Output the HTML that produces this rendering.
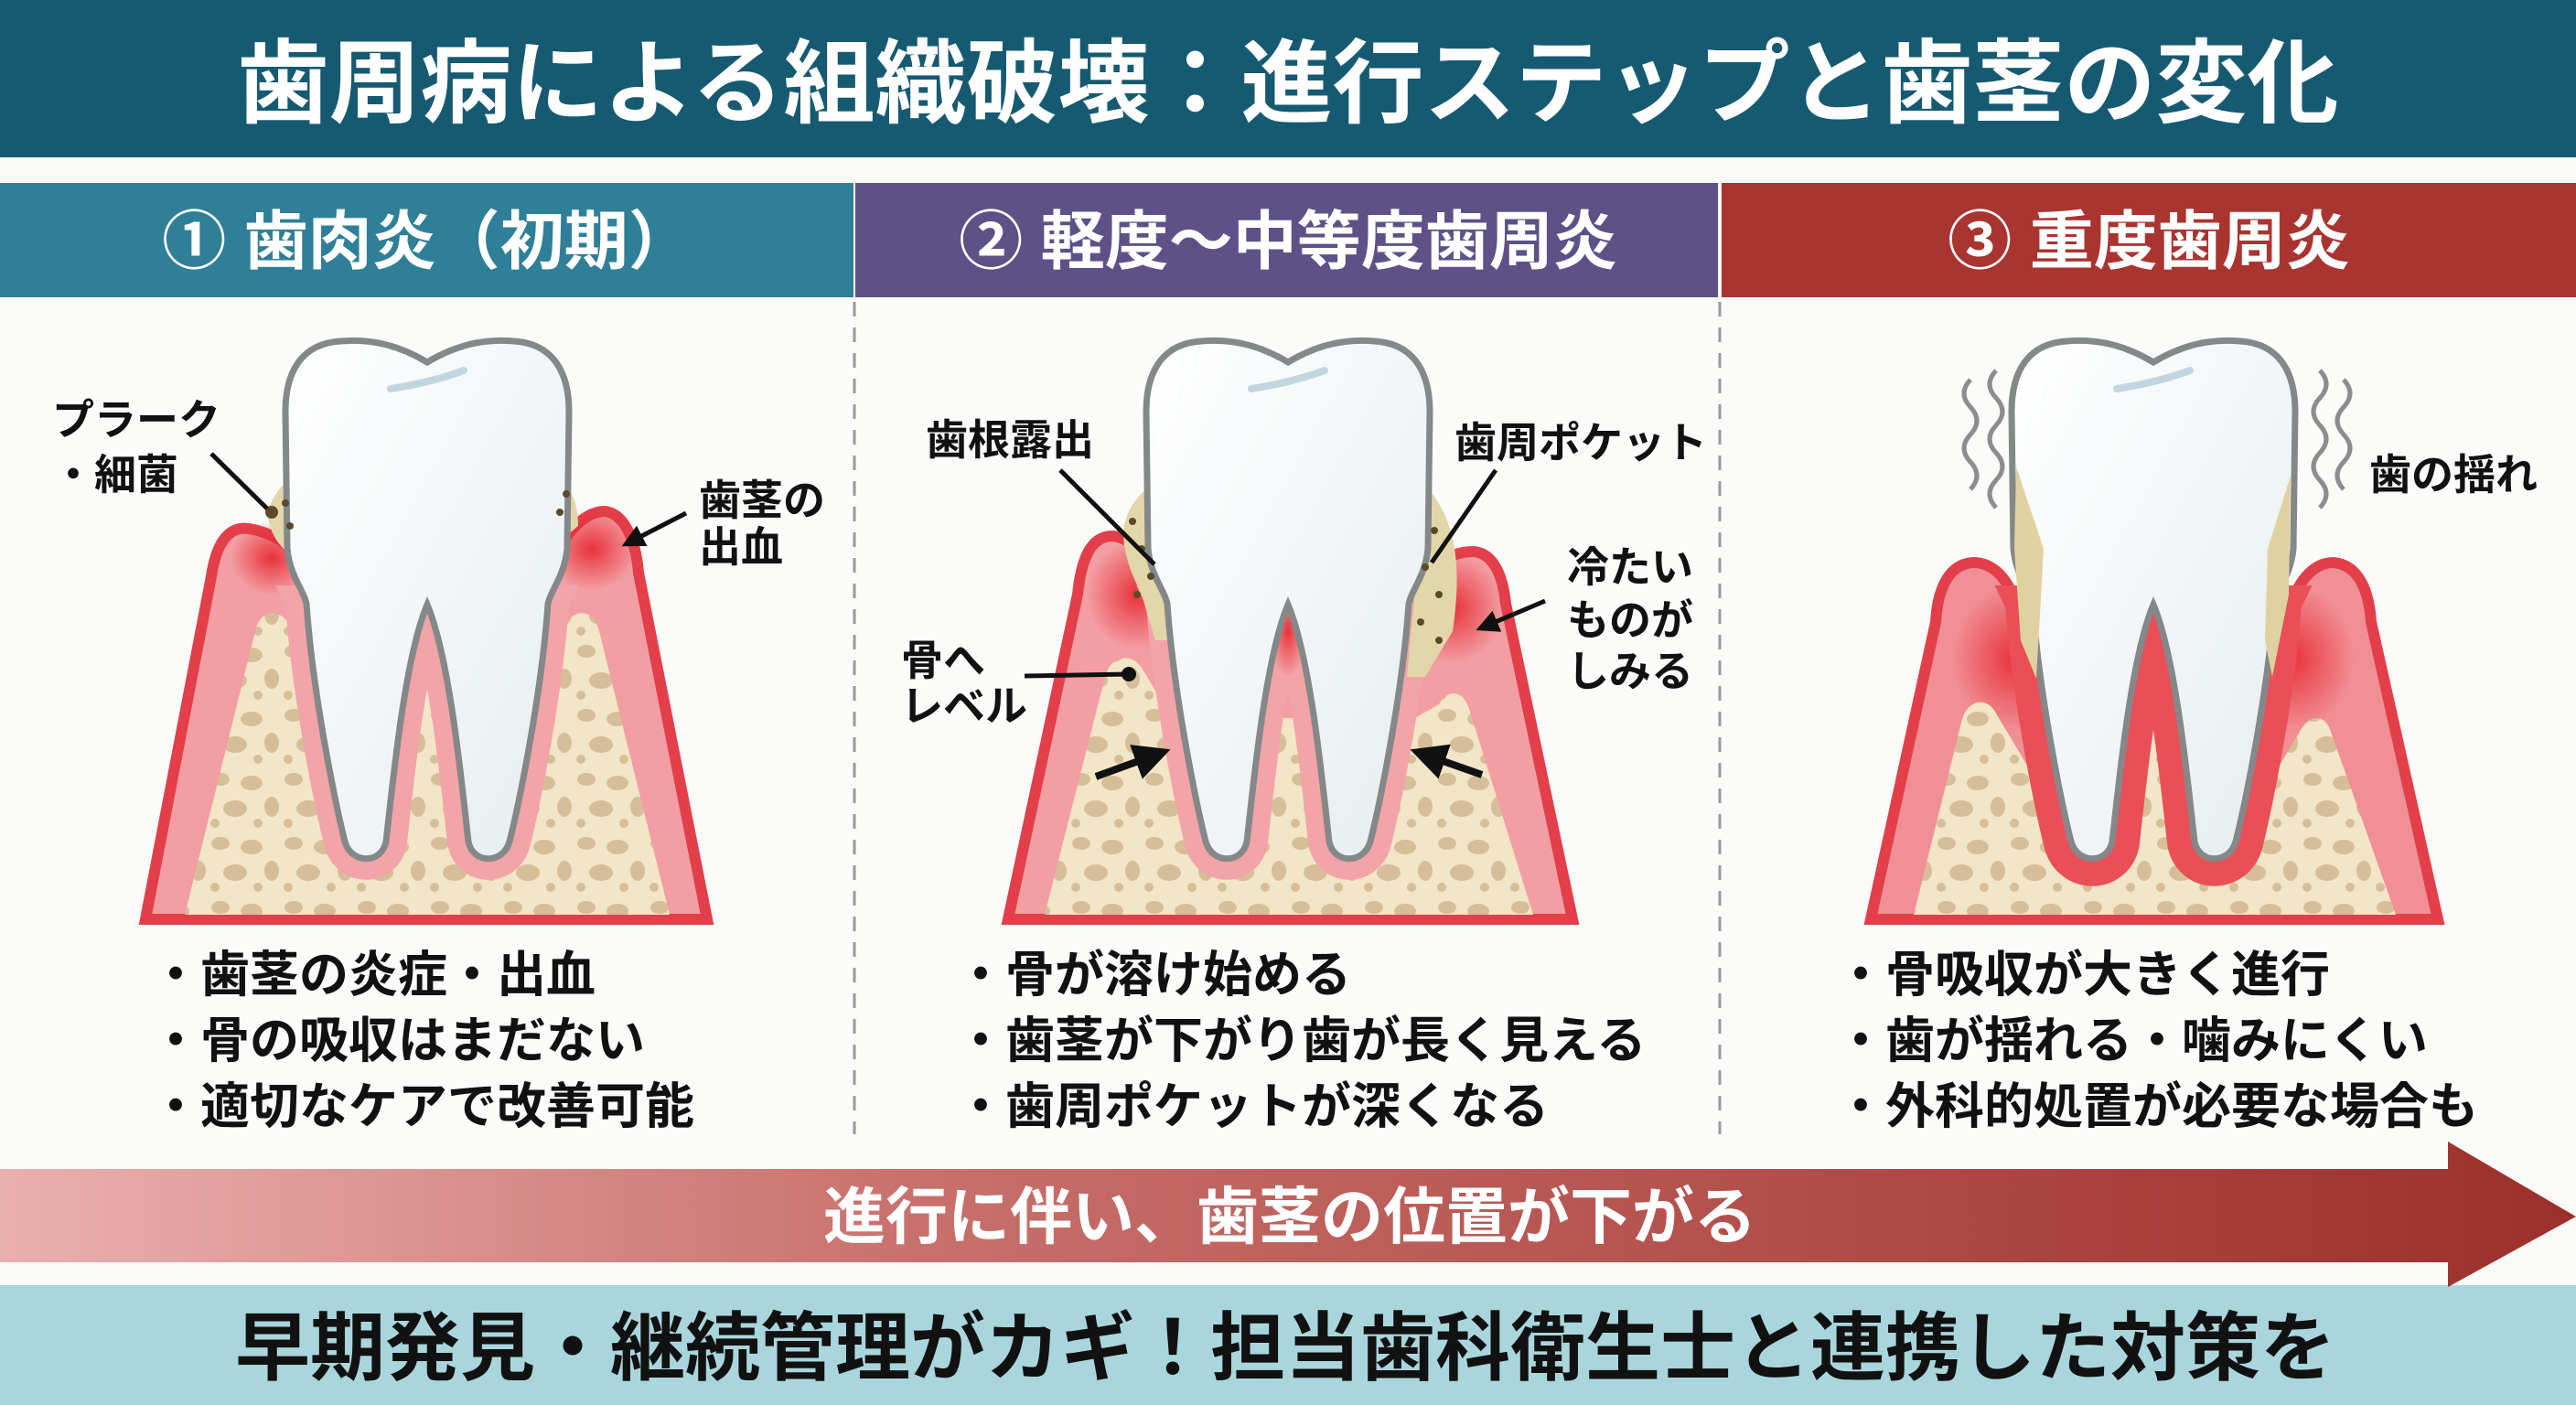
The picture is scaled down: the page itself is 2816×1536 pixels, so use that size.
<!DOCTYPE html>
<html><head><meta charset="utf-8"><style>
html,body{margin:0;padding:0;background:#fbfbfa;}
svg{display:block;}
text{font-family:"Liberation Sans","Noto Sans CJK JP",sans-serif;font-weight:bold;}
</style></head><body>
<svg width="2816" height="1536" viewBox="0 0 2816 1536" xmlns="http://www.w3.org/2000/svg">
<defs>
  <linearGradient id="arr" x1="0" x2="1" y1="0" y2="0">
    <stop offset="0" stop-color="#eab0ae"/><stop offset="0.35" stop-color="#c9716d"/><stop offset="1" stop-color="#9c2f2b"/>
  </linearGradient>
  <linearGradient id="toothg" x1="0" x2="1" y1="0" y2="1">
    <stop offset="0" stop-color="#ffffff"/><stop offset="1" stop-color="#e6edf0"/>
  </linearGradient>
  <pattern id="bone" width="80" height="70" patternUnits="userSpaceOnUse">
    <rect width="80" height="70" fill="#f3e5c8"/>
    <ellipse cx="14" cy="12" rx="10" ry="7" fill="#d6bf98"/>
    <ellipse cx="48" cy="16" rx="12" ry="8" fill="#d6bf98"/>
    <ellipse cx="70" cy="42" rx="8" ry="11" fill="#d6bf98"/>
    <ellipse cx="30" cy="44" rx="13" ry="9" fill="#d6bf98"/>
    <circle cx="55" cy="60" r="5" fill="#d6bf98"/>
    <circle cx="8" cy="60" r="5" fill="#d6bf98"/>
  </pattern>
  <radialGradient id="glow"><stop offset="0" stop-color="#e8262f" stop-opacity="0.9"/><stop offset="1" stop-color="#e8262f" stop-opacity="0"/></radialGradient>
  <clipPath id="lower"><rect x="-400" y="640" width="800" height="400"/></clipPath>
  <path id="tooth" d="M 0 396 C 30 378, 60 370, 95 373 C 140 376, 155 410, 155 450 L 153 600 C 150 630, 135 645, 132 660 C 125 760, 100 880, 90 920 C 83 945, 50 945, 45 920 C 38 860, 25 720, 0 661 C -25 720, -38 860, -45 920 C -50 945, -83 945, -90 920 C -100 880, -125 760, -132 660 C -135 645, -150 630, -153 600 L -155 450 C -155 410, -140 376, -95 373 C -60 370, -30 378, 0 396 Z"/>
  <marker id="ah" viewBox="0 0 10 10" refX="8" refY="5" markerWidth="5" markerHeight="5" orient="auto"><path d="M0 0 L10 5 L0 10 Z" fill="#111"/></marker>
</defs>

<!-- Title -->
<rect x="0" y="0" width="2816" height="172" fill="#165a72"/>
<text x="1408" y="126" font-size="100" fill="#fff" text-anchor="middle">歯周病による組織破壊：進行ステップと歯茎の変化</text>

<!-- Headers -->
<rect x="0" y="200" width="933" height="125" fill="#2f7f98"/>
<rect x="935" y="200" width="943" height="125" fill="#5d5188"/>
<rect x="1882" y="200" width="934" height="125" fill="#a93430"/>
<text x="467" y="288" font-size="70" fill="#fff" text-anchor="middle">① 歯肉炎（初期）</text>
<text x="1408" y="288" font-size="70" fill="#fff" text-anchor="middle">② 軽度〜中等度歯周炎</text>
<text x="2349" y="288" font-size="70" fill="#fff" text-anchor="middle">③ 重度歯周炎</text>

<!-- dividers -->
<line x1="934" y1="330" x2="934" y2="1240" stroke="#9a9a9a" stroke-width="3" stroke-dasharray="16 12"/>
<line x1="1880" y1="330" x2="1880" y2="1240" stroke="#9a9a9a" stroke-width="3" stroke-dasharray="16 12"/>

<!-- Column 1 -->
<g transform="translate(467,0)">
  <path d="M -308 1005 L -236 630 C -230 590, -215 575, -195 578 C -170 582, -150 595, -135 615 L 135 615 C 150 585, 170 560, 193 559 C 215 560, 228 590, 231 626 L 306 1005 Z" fill="#f29ea3" stroke="#e23f4a" stroke-width="12"/>
  <ellipse cx="-170" cy="610" rx="45" ry="40" fill="url(#glow)"/>
  <ellipse cx="180" cy="600" rx="50" ry="45" fill="url(#glow)"/>
  <path d="M -265 1000 L -188 690 C -183 668, -165 664, -152 680 L -140 700 L 140 700 L 152 680 C 165 664, 183 668, 188 690 L 265 1000 Z" fill="url(#bone)"/>
  <use href="#tooth" fill="none" stroke="#f3a4a8" stroke-width="46" clip-path="url(#lower)"/>
  <path d="M -175 560 C -160 520, -140 515, -130 540 L -125 620 C -145 610, -170 600, -175 560 Z" fill="#e3d6a8"/>
  <path d="M 130 530 C 150 520, 165 540, 165 575 L 135 600 Z" fill="#e3d6a8"/>
  <use href="#tooth" fill="url(#toothg)" stroke="#858888" stroke-width="7"/>
  <path d="M -40 425 Q 5 418 40 405" stroke="#c2d6e0" stroke-width="8" fill="none" stroke-linecap="round"/>
  <g fill="#5a4a2a"><circle cx="-170" cy="560" r="7"/><circle cx="-150" cy="575" r="4"/><circle cx="-155" cy="550" r="4"/><circle cx="145" cy="560" r="4"/><circle cx="152" cy="540" r="4"/></g>
</g>
<text x="57" y="475" font-size="46" fill="#111">プラーク</text>
<text x="57" y="535" font-size="46" fill="#111">・細菌</text>
<line x1="231" y1="496" x2="292" y2="556" stroke="#111" stroke-width="5"/>
<text x="764" y="563" font-size="46" fill="#111">歯茎の</text>
<text x="764" y="614" font-size="46" fill="#111">出血</text>
<line x1="750" y1="561" x2="684" y2="595" stroke="#111" stroke-width="5" marker-end="url(#ah)"/>

<!-- Column 2 -->
<g transform="translate(1408,0)">
  <path d="M -306 1005 L -230 650 C -225 600, -210 586, -192 586 C -170 588, -150 610, -140 640 L 138 660 C 150 620, 175 603, 203 603 C 225 605, 235 630, 238 660 L 311 1005 Z" fill="#f29ea3" stroke="#e23f4a" stroke-width="12"/>
  <ellipse cx="-165" cy="650" rx="55" ry="60" fill="url(#glow)"/>
  <ellipse cx="180" cy="665" rx="55" ry="60" fill="url(#glow)"/>
  <path d="M -266 1000 L -200 740 C -195 718, -172 712, -160 730 L -130 780 L 130 790 L 165 770 C 175 752, 192 755, 198 775 L 268 1000 Z" fill="url(#bone)"/>
  <use href="#tooth" fill="none" stroke="#f3a4a8" stroke-width="46" clip-path="url(#lower)"/>
  <path d="M -150 530 C -185 560, -190 590, -160 650 L -145 700 L -130 700 L -145 530 Z" fill="#e3d6a8"/>
  <path d="M 150 530 C 185 570, 190 620, 180 690 L 150 740 L 130 740 Z" fill="#e3d6a8"/>
  <ellipse cx="0" cy="690" rx="20" ry="50" fill="url(#glow)"/>
  <use href="#tooth" fill="url(#toothg)" stroke="#858888" stroke-width="7"/>
  <path d="M -40 425 Q 5 418 40 405" stroke="#c2d6e0" stroke-width="8" fill="none" stroke-linecap="round"/>
  <g fill="#5a4a2a"><circle cx="-170" cy="570" r="4"/><circle cx="-160" cy="600" r="4"/><circle cx="-150" cy="630" r="4"/><circle cx="-165" cy="650" r="4"/><circle cx="160" cy="580" r="4"/><circle cx="150" cy="620" r="4"/><circle cx="165" cy="650" r="4"/><circle cx="145" cy="680" r="4"/><circle cx="165" cy="700" r="4"/></g>
</g>
<text x="1012" y="497" font-size="46" fill="#111">歯根露出</text>
<line x1="1159" y1="514" x2="1262" y2="617" stroke="#111" stroke-width="5"/>
<text x="1590" y="500" font-size="46" fill="#111">歯周ポケット</text>
<line x1="1635" y1="514" x2="1565" y2="615" stroke="#111" stroke-width="5"/>
<text x="1713" y="636" font-size="46" fill="#111">冷たい</text>
<text x="1713" y="694" font-size="46" fill="#111">ものが</text>
<text x="1713" y="750" font-size="46" fill="#111">しみる</text>
<line x1="1689" y1="657" x2="1618" y2="687" stroke="#111" stroke-width="5" marker-end="url(#ah)"/>
<text x="985" y="738" font-size="46" fill="#111">骨へ</text>
<text x="985" y="788" font-size="46" fill="#111">レベル</text>
<line x1="1120" y1="739" x2="1234" y2="737" stroke="#111" stroke-width="5"/>
<circle cx="1234" cy="737" r="8" fill="#111"/>
<line x1="1198" y1="849" x2="1272" y2="822" stroke="#111" stroke-width="8" marker-end="url(#ah)"/>
<line x1="1620" y1="847" x2="1549" y2="822" stroke="#111" stroke-width="8" marker-end="url(#ah)"/>

<!-- Column 3 -->
<g transform="translate(2354,0)">
  <path d="M -309 1005 L -238 680 C -235 630, -215 615, -195 615 C -165 617, -148 650, -140 700 L 140 700 C 148 650, 168 615, 197 615 C 218 617, 235 635, 238 680 L 311 1005 Z" fill="#f08f95" stroke="#e23f4a" stroke-width="12"/>
  <ellipse cx="-150" cy="720" rx="70" ry="80" fill="url(#glow)"/>
  <ellipse cx="150" cy="720" rx="70" ry="80" fill="url(#glow)"/>
  <path d="M -262 1000 L -210 790 C -205 765, -182 760, -172 780 L -100 900 L -20 800 C -10 760, 10 760, 20 800 L 100 900 L 160 800 C 170 780, 188 780, 194 800 L 265 1000 Z" fill="url(#bone)"/>
  <use href="#tooth" fill="none" stroke="#ea4f58" stroke-width="60" clip-path="url(#lower)"/>
  <use href="#tooth" fill="url(#toothg)" stroke="#858888" stroke-width="7"/>
  <path d="M -150 510 L -120 600 L -128 742 L -145 700 L -152 600 Z" fill="#e0d2a0"/>
  <path d="M 150 520 L 125 600 L 122 700 L 130 740 L 148 650 Z" fill="#e0d2a0"/>
  <path d="M -40 425 Q 5 418 40 405" stroke="#c2d6e0" stroke-width="8" fill="none" stroke-linecap="round"/>
  <g fill="none" stroke="#8d8d8d" stroke-width="5">
    <path d="M -200 415 q -14 15 0 30 q 14 15 0 30 q -14 15 0 30 q 14 15 0 30"/>
    <path d="M -172 405 q -14 15 0 30 q 14 15 0 30 q -14 15 0 30 q 14 15 0 30 q -14 15 0 30"/>
    <path d="M 182 405 q 14 15 0 30 q -14 15 0 30 q 14 15 0 30 q -14 15 0 30 q 14 15 0 30"/>
    <path d="M 208 415 q 14 15 0 30 q -14 15 0 30 q 14 15 0 30 q -14 15 0 30"/>
  </g>
</g>
<text x="2590" y="535" font-size="46" fill="#111">歯の揺れ</text>

<!-- Bullets -->
<g font-size="54" fill="#111">
  <text x="165" y="1084">・歯茎の炎症・出血</text>
  <text x="165" y="1156">・骨の吸収はまだない</text>
  <text x="165" y="1228">・適切なケアで改善可能</text>
  <text x="1045" y="1084">・骨が溶け始める</text>
  <text x="1045" y="1156">・歯茎が下がり歯が長く見える</text>
  <text x="1045" y="1228">・歯周ポケットが深くなる</text>
  <text x="2007" y="1084">・骨吸収が大きく進行</text>
  <text x="2007" y="1156">・歯が揺れる・噛みにくい</text>
  <text x="2007" y="1228">・外科的処置が必要な場合も</text>
</g>

<!-- Bottom band -->
<rect x="0" y="1405" width="2816" height="131" fill="#a9d6dc"/>
<text x="1405" y="1502" font-size="82" fill="#111" text-anchor="middle">早期発見・継続管理がカギ！担当歯科衛生士と連携した対策を</text>

<!-- Progress arrow -->
<path d="M 0 1278 L 2676 1278 L 2676 1248 L 2816 1330 L 2676 1407 L 2676 1380 L 0 1380 Z" fill="url(#arr)"/>
<text x="1410" y="1354" font-size="68" fill="#fff" text-anchor="middle">進行に伴い、歯茎の位置が下がる</text>
</svg>
</body></html>
